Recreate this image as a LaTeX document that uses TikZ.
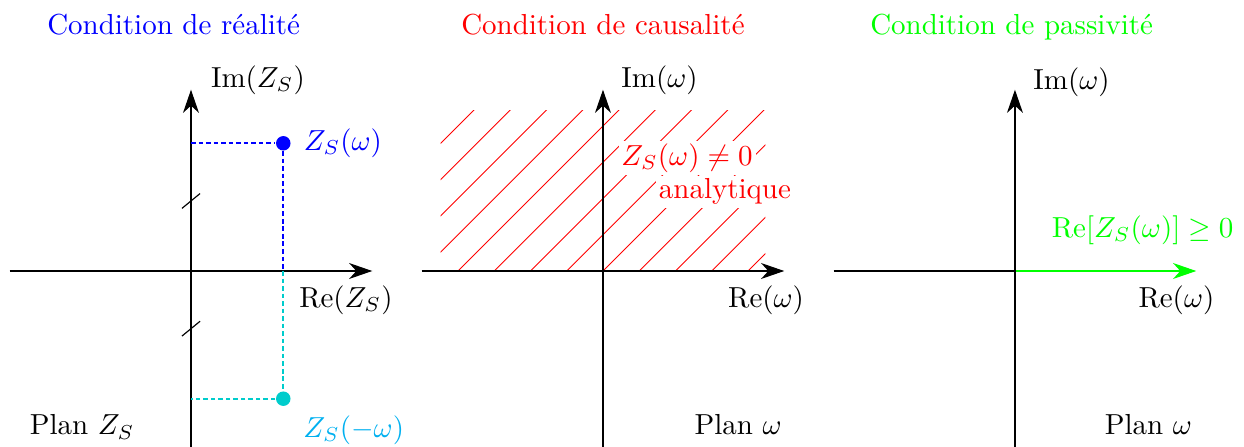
\documentclass[tikz,border=0pt]{standalone}
\usepackage{amsmath}
\usepackage{amssymb}
\usepackage{xcolor}
\usetikzlibrary{arrows.meta,positioning}
\definecolor{turq}{RGB}{0,204,204}
\definecolor{ciel}{RGB}{0,176,240}

\begin{document}
\begin{tikzpicture}[axe/.style={-{Stealth[length=8pt,width=5.5pt,inset=2.5pt]}},
    pt/.style={circle,fill,inner sep=0pt,minimum size=5pt},
    tiret/.style={line width=0.6pt,dash pattern=on 1.6pt off 1pt},
    titre/.style={anchor=base},
    cache/.style={fill=white,inner sep=1pt}]
\useasboundingbox (-2.318,-2.136) rectangle (12.78,3.289);
% plan Z_S
\coordinate (g1) at (-2.2,0);
\coordinate (d1) at (2.2,0);
\coordinate (b1) at (0,-2.136);
\coordinate (h1) at (0,2.2);
\draw[axe] (g1)--(d1);
\draw[axe] (b1)--(h1);
\draw (-0.11,0.76)--(0.11,0.94);
\draw (-0.11,-0.79)--(0.11,-0.61);
\node[pt,fill=blue] (zp) at (1.12,1.55) {};
\node[pt,fill=turq] (zm) at (1.12,-1.55) {};
\coordinate (zpy) at (0,1.55);
\coordinate (zmy) at (0,-1.55);
\coordinate (zx) at (1.12,0);
\draw[blue,tiret] (zpy)--(zp.west);
\draw[blue,tiret] (zp.south)--(zx);
\draw[turq,tiret] (zx)--(zm.north);
\draw[turq,tiret] (zm.west)--(zmy);
\node[text=blue,right=0.03cm of zp] (lzp) {$Z_S(\omega)$};
\node[text=ciel,anchor=west] (lzm) at (1.24,-1.93) {$Z_S(-\omega)$};
\node[anchor=west] (im1) at (0.12,2.32) {$\mathrm{Im}(Z_S)$};
\node (re1) at (1.88,-0.35) {$\mathrm{Re}(Z_S)$};
\node[titre] (p1) at (-1.32,-1.99) {Plan $Z_S$};
\node[titre,text=blue] (t1) at (-0.21,2.87) {Condition de réalité};
% plan omega, causalite
\begin{scope}[xshift=5cm]
\begin{scope}
\clip (-1.97,0) rectangle (1.97,1.95);
\foreach \k in {-9,...,4}
  \draw[red,line width=0.3pt] (\k*0.44,0)--++(2.2,2.2);
\end{scope}
\coordinate (g2) at (-2.2,0);
\coordinate (d2) at (2.2,0);
\coordinate (b2) at (0,-2.136);
\coordinate (h2) at (0,2.2);
\draw[axe] (g2)--(d2);
\draw[axe] (b2)--(h2);
\node[cache,text=red] (nz) at (1.02,1.37) {$Z_S(\omega)\neq 0$};
\node[cache,text=red] (an) at (1.48,0.96) {analytique};
\node[anchor=west] (im2) at (0.10,2.32) {$\mathrm{Im}(\omega)$};
\node (re2) at (1.98,-0.35) {$\mathrm{Re}(\omega)$};
\node[titre] (p2) at (1.64,-1.99) {Plan $\omega$};
\node[titre,text=red] (t2) at (0,2.87) {Condition de causalité};
\end{scope}
% plan omega, passivite
\begin{scope}[xshift=10cm]
\coordinate (o3) at (0,0);
\coordinate (g3) at (-2.2,0);
\coordinate (d3) at (2.2,0);
\coordinate (b3) at (0,-2.136);
\coordinate (h3) at (0,2.2);
\draw (g3)--(o3);
\draw[axe,green] (o3)--(d3);
\draw[axe] (b3)--(h3);
\node[text=green] (rz) at (1.55,0.50) {$\mathrm{Re}[Z_S(\omega)]\geq 0$};
\node[anchor=west] (im3) at (0.10,2.29) {$\mathrm{Im}(\omega)$};
\node (re3) at (1.96,-0.35) {$\mathrm{Re}(\omega)$};
\node[titre] (p3) at (1.62,-1.99) {Plan $\omega$};
\node[titre,text=green] (t3) at (-0.04,2.87) {Condition de passivité};
\end{scope}
\end{tikzpicture}
\end{document}
